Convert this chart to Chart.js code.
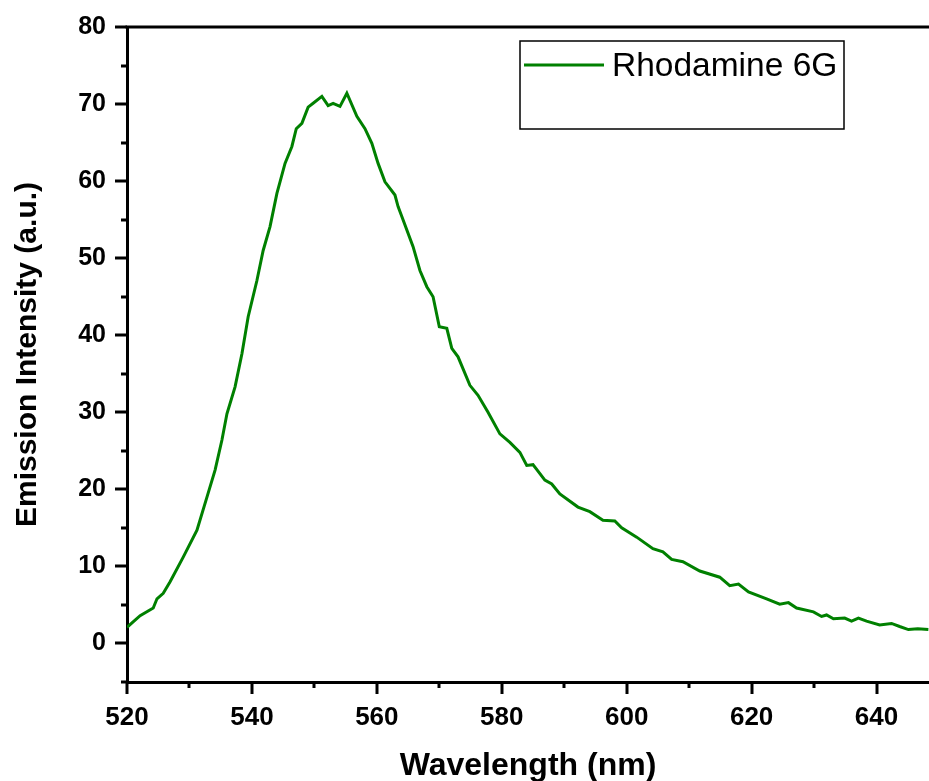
<!DOCTYPE html>
<html>
<head>
<meta charset="utf-8">
<script src="https://cdn.jsdelivr.net/npm/chart.js@4"></script>
<style>
  html, body { margin: 0; padding: 0; background: #fff; }
  #wrap { width: 929px; height: 781px; }
</style>
</head>
<body>
<div id="wrap"><canvas id="chart" width="929" height="781"></canvas></div>
<script>
const wavelength = [
    520.0, 522.1, 524.2, 524.8, 525.8, 526.9, 529.0, 531.2, 532.8, 534.1,
    535.2, 536.0, 537.3, 538.4, 539.4, 540.8, 541.8, 542.9, 544.0, 545.3,
    546.4, 547.1, 548.0, 549.0, 549.8, 551.2, 552.2, 553.0, 554.1, 555.2,
    556.8, 558.1, 559.2, 560.2, 561.3, 562.9, 563.4, 564.0, 565.8, 566.9,
    568.0, 569.0, 570.0, 571.2, 572.0, 573.0, 574.9, 576.2, 577.8, 579.7,
    581.3, 582.9, 584.0, 585.0, 586.9, 588.0, 589.3, 592.2, 594.1, 596.2,
    598.1, 599.2, 601.6, 604.2, 605.8, 607.2, 609.0, 611.7, 614.9, 616.5,
    617.9, 619.5, 622.4, 624.5, 625.9, 627.2, 629.9, 631.2, 632.0, 633.1,
    634.9, 636.0, 637.1, 638.4, 640.5, 642.4, 643.7, 645.1, 646.6, 648.3
]
const intensity = [
    2.1, 3.6, 4.6, 5.8, 6.5, 8.0, 11.2, 14.7, 19.0, 22.5,
    26.4, 29.8, 33.3, 37.6, 42.4, 47.1, 51.0, 54.1, 58.4, 62.3,
    64.5, 66.8, 67.5, 69.6, 70.1, 71.0, 69.8, 70.1, 69.7, 71.4,
    68.4, 66.8, 64.9, 62.3, 59.9, 58.2, 56.7, 55.4, 51.5, 48.4,
    46.3, 45.0, 41.1, 40.9, 38.3, 37.2, 33.5, 32.2, 30.0, 27.2,
    26.1, 24.8, 23.1, 23.2, 21.2, 20.7, 19.4, 17.7, 17.1, 16.0,
    15.9, 15.0, 13.8, 12.3, 11.9, 10.9, 10.6, 9.4, 8.6, 7.5,
    7.7, 6.7, 5.8, 5.1, 5.3, 4.6, 4.1, 3.5, 3.7, 3.2,
    3.3, 2.9, 3.3, 2.9, 2.4, 2.6, 2.2, 1.8, 1.9, 1.8
]
const seriesLabel = 'Rhodamine 6G'
const xTitle = 'Wavelength (nm)'
const yTitle = 'Emission Intensity (a.u.)'

const green = '#008000'
const fontFamily = '"Liberation Sans", Arial, sans-serif'

// major ticks 12px, minor ticks 6px, drawn outward
const axisTicks = {
    id: 'axisTicks',
    afterDraw(chart) {
        const ctx = chart.ctx
        const {left, top, bottom} = chart.chartArea
        const xs = chart.scales.x
        const ys = chart.scales.y
        ctx.save()
        ctx.strokeStyle = '#000'
        ctx.lineWidth = 3

        // top frame line
        ctx.beginPath()
        ctx.moveTo(left - 1.5, top)
        ctx.lineTo(chart.width, top)
        ctx.stroke()

        ys.ticks.forEach(t => {
            const y = Math.round(ys.getPixelForValue(t.value))
            const len = t.value % 10 === 0 ? 12 : 6
            ctx.beginPath()
            ctx.moveTo(left, y)
            ctx.lineTo(left - len, y)
            ctx.stroke()
        })
        xs.ticks.forEach(t => {
            const x = Math.round(xs.getPixelForValue(t.value))
            const len = t.value % 20 === 0 ? 12 : 6
            ctx.beginPath()
            ctx.moveTo(x, bottom)
            ctx.lineTo(x, bottom + len)
            ctx.stroke()
        })
        ctx.restore()
    }
}

const legendBox = {
    id: 'legendBox',
    afterDraw(chart) {
        const ctx = chart.ctx
        ctx.save()
        ctx.strokeStyle = '#000'
        ctx.lineWidth = 1.5
        ctx.strokeRect(520, 41, 324, 88)
        ctx.strokeStyle = green
        ctx.lineWidth = 3
        ctx.beginPath()
        ctx.moveTo(524, 65)
        ctx.lineTo(604, 65)
        ctx.stroke()
        ctx.fillStyle = '#000'
        ctx.font = `33.5px ${fontFamily}`
        ctx.textBaseline = 'alphabetic'
        ctx.fillText(chart.data.datasets[0].label, 612, 76)
        ctx.restore()
    }
}

new Chart(document.getElementById('chart'), {
    type: 'line',
    data: {
        datasets: [{
            label: seriesLabel,
            data: wavelength.map((w, i) => ({ x: w, y: intensity[i] })),
            borderColor: green,
            borderWidth: 3,
            pointRadius: 0,
            tension: 0,
            fill: false
        }]
    },
    options: {
        responsive: false,
        animation: false,
        devicePixelRatio: 1,
        layout: { padding: { top: 27, right: 0, left: 0, bottom: 0 } },
        plugins: {
            legend: { display: false },
            tooltip: { enabled: false }
        },
        scales: {
            x: {
                type: 'linear',
                min: 520,
                max: 648.4,
                afterFit: s => {
                    s.height = 99
                    s.paddingLeft = 0
                    s.paddingRight = 0
                },
                afterBuildTicks: s => {
                    s.ticks = []
                    for (let v = 520; v <= 648; v += 10) s.ticks.push({ value: v })
                },
                grid: { display: false, drawTicks: false },
                border: { display: true, color: '#000', width: 3 },
                ticks: {
                    padding: 20,
                    color: '#000',
                    font: { family: fontFamily, size: 26, weight: 'bold' },
                    maxRotation: 0,
                    autoSkip: false,
                    callback: v => v % 20 === 0 ? String(v) : ''
                },
                title: {
                    display: true,
                    text: xTitle,
                    color: '#000',
                    font: { family: fontFamily, size: 32, weight: 'bold' },
                    padding: { top: 0, bottom: -4 }
                }
            },
            y: {
                min: -5,
                max: 80,
                afterFit: s => {
                    s.width = 127
                    s.paddingTop = 0
                    s.paddingBottom = 0
                },
                afterBuildTicks: s => {
                    s.ticks = []
                    for (let v = -5; v <= 80; v += 5) s.ticks.push({ value: v })
                },
                grid: { display: false, drawTicks: false },
                border: { display: true, color: '#000', width: 3 },
                ticks: {
                    padding: 21,
                    color: '#000',
                    font: { family: fontFamily, size: 25, weight: 'bold' },
                    autoSkip: false,
                    callback: v => v % 10 === 0 ? String(v) : ''
                },
                title: {
                    display: true,
                    text: yTitle,
                    color: '#000',
                    font: { family: fontFamily, size: 30, weight: 'bold' },
                    padding: { top: 10, bottom: 0 }
                }
            }
        }
    },
    plugins: [axisTicks, legendBox]
})
</script>
</body>
</html>
